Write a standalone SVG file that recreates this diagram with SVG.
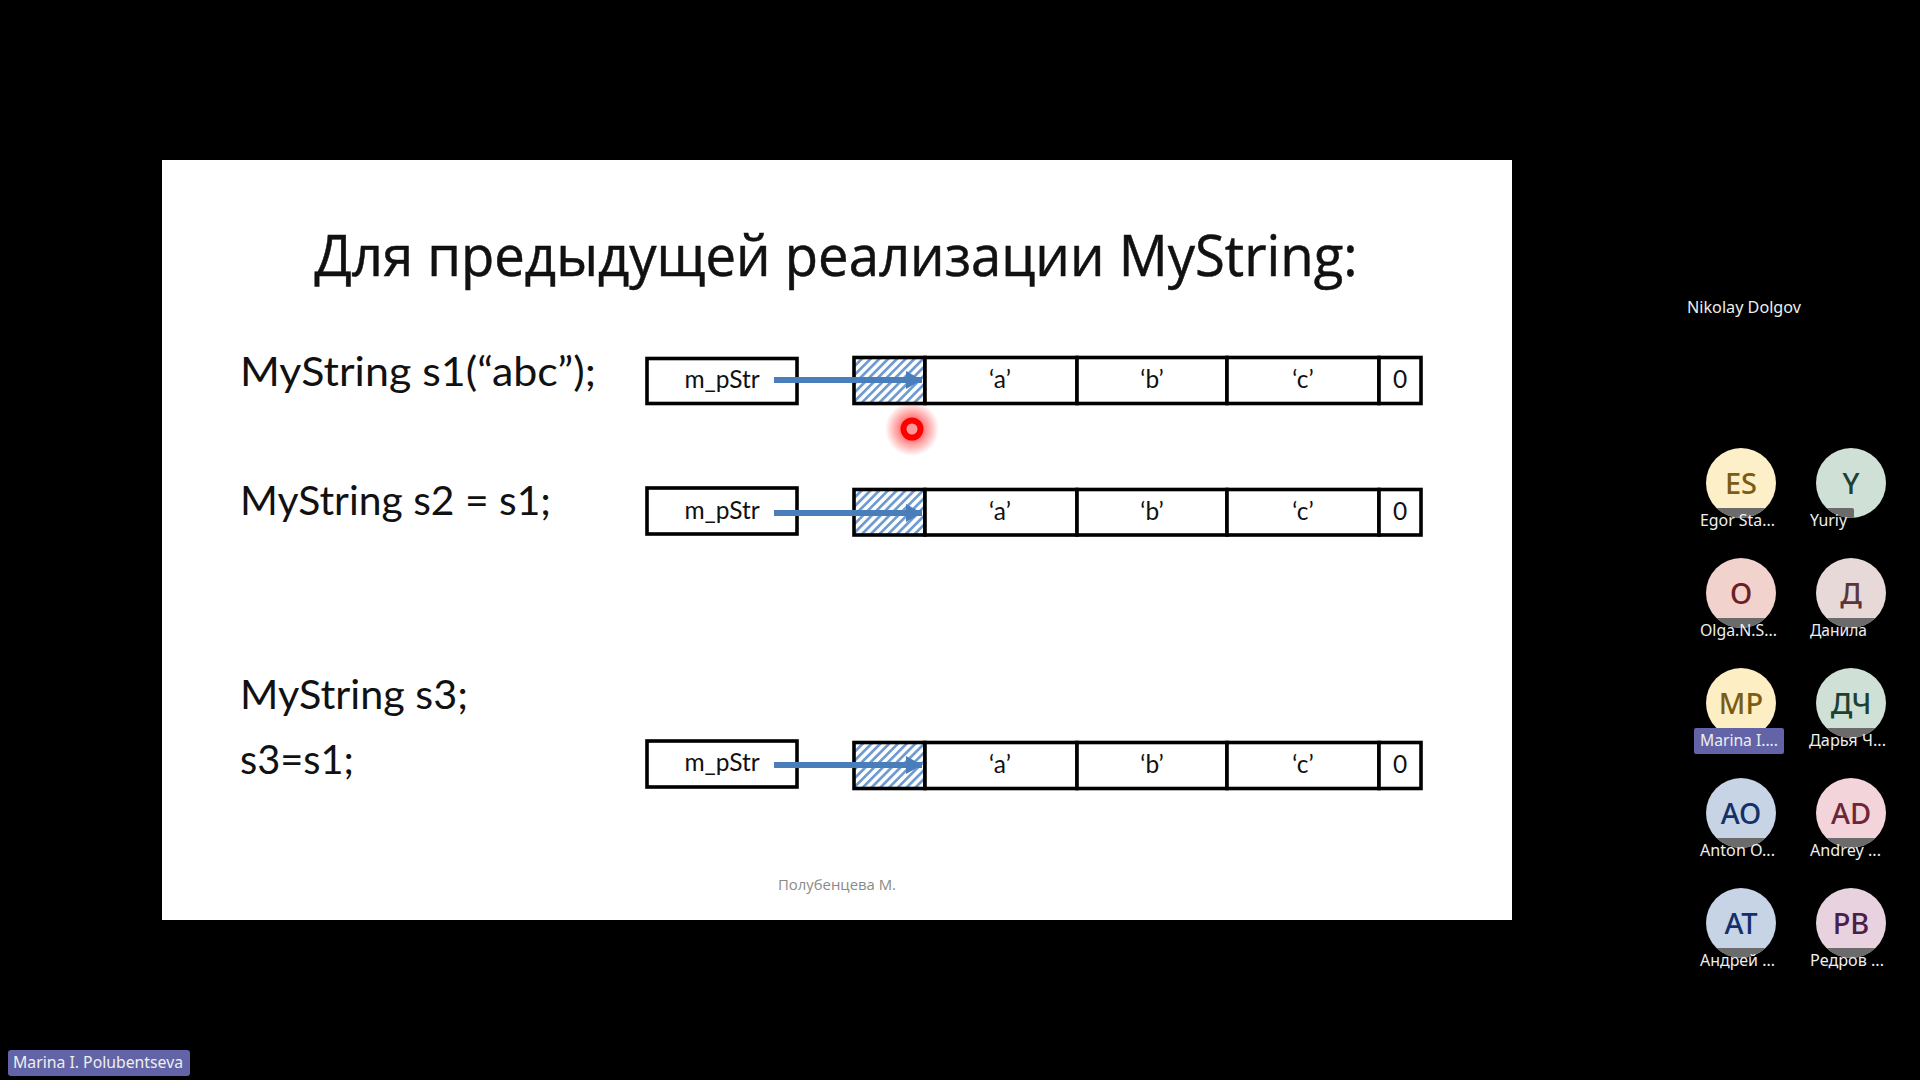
<svg xmlns="http://www.w3.org/2000/svg" width="1920" height="1080" viewBox="0 0 1920 1080">
<defs>
<pattern id="hatch" width="6.2" height="6" patternUnits="userSpaceOnUse" patternTransform="rotate(45)"><rect width="6.2" height="6" fill="#fff"/><rect width="2.7" height="6" fill="#6f9bd0"/></pattern>
<radialGradient id="glow"><stop offset="0.3" stop-color="#ff2020" stop-opacity="0.7"/><stop offset="1" stop-color="#ff2020" stop-opacity="0"/></radialGradient>
<marker id="head" markerUnits="userSpaceOnUse" markerWidth="18" markerHeight="20" refX="16" refY="10" orient="auto"><path d="M0 1 L16 10 L0 19 Z" fill="#4a7ebb"/></marker>
<clipPath id="c1"><circle cx="1741" cy="483" r="35"/></clipPath><clipPath id="c2"><circle cx="1851" cy="483" r="35"/></clipPath>
<clipPath id="c3"><circle cx="1741" cy="593" r="35"/></clipPath><clipPath id="c4"><circle cx="1851" cy="593" r="35"/></clipPath>
<clipPath id="c6"><circle cx="1851" cy="703" r="35"/></clipPath>
<clipPath id="c7"><circle cx="1741" cy="813" r="35"/></clipPath><clipPath id="c8"><circle cx="1851" cy="813" r="35"/></clipPath>
<clipPath id="c9"><circle cx="1741" cy="923" r="35"/></clipPath><clipPath id="c10"><circle cx="1851" cy="923" r="35"/></clipPath>
</defs>
<style>
.box{fill:#fff;stroke:#000;stroke-width:3.6}
.hat{fill:url(#hatch);stroke:#000;stroke-width:3.6}
.cell{font-family:"Lato","Noto Sans",sans-serif;font-size:24.5px;fill:#111;text-anchor:middle}
.code{font-family:"Lato","Noto Sans",sans-serif;font-size:40px;fill:#111}
.arrow{stroke:#4a7ebb;stroke-width:6;fill:none}
.ini{font-family:"Noto Sans",sans-serif;font-size:29px;font-weight:500;text-anchor:middle}
.name{font-family:"Noto Sans",sans-serif;font-size:15.5px;fill:#eee}
.bar{fill:#6b6b6b}
.badge{fill:#6264a7}
</style>
<rect width="1920" height="1080" fill="#000"/>
<rect id="slide" x="162" y="160" width="1350" height="760" fill="#fff"/>
<text id="title" x="836" y="276" text-anchor="middle" font-family="Open Sans, Noto Sans, sans-serif" font-size="56" fill="#111" stroke="#111" stroke-width="0.5" textLength="1043" lengthAdjust="spacingAndGlyphs">Для предыдущей реализации MyString:</text>
<text class="code" x="240" y="386" textLength="356" lengthAdjust="spacingAndGlyphs">MyString s1(“abc”);</text>
<text class="code" x="240" y="515" textLength="311" lengthAdjust="spacingAndGlyphs">MyString s2 = s1;</text>
<text class="code" x="240" y="709" textLength="228" lengthAdjust="spacingAndGlyphs">MyString s3;</text>
<text class="code" x="240" y="774" textLength="114" lengthAdjust="spacingAndGlyphs">s3=s1;</text>

<g id="row1">
<g id="ptr1"><rect class="box" x="647" y="358.5" width="150" height="45"/><text class="cell" x="722" y="388">m_pStr</text></g>
<g id="mem1"><rect class="hat" x="854" y="357.5" width="71" height="46"/><rect class="box" x="925" y="357.5" width="152" height="46"/><rect class="box" x="1077" y="357.5" width="150" height="46"/><rect class="box" x="1227" y="357.5" width="152" height="46"/><rect class="box" x="1379" y="357.5" width="42" height="46"/>
<text class="cell" x="1000" y="388">‘a’</text><text class="cell" x="1152" y="388">‘b’</text><text class="cell" x="1303" y="388">‘c’</text><text class="cell" x="1400" y="388">0</text></g>
</g>
<g id="row2">
<g id="ptr2"><rect class="box" x="647" y="488" width="150" height="46"/><text class="cell" x="722" y="519">m_pStr</text></g>
<g id="mem2"><rect class="hat" x="854" y="489.5" width="71" height="45.5"/><rect class="box" x="925" y="489.5" width="152" height="45.5"/><rect class="box" x="1077" y="489.5" width="150" height="45.5"/><rect class="box" x="1227" y="489.5" width="152" height="45.5"/><rect class="box" x="1379" y="489.5" width="42" height="45.5"/>
<text class="cell" x="1000" y="520">‘a’</text><text class="cell" x="1152" y="520">‘b’</text><text class="cell" x="1303" y="520">‘c’</text><text class="cell" x="1400" y="520">0</text></g>
</g>
<g id="row3">
<g id="ptr3"><rect class="box" x="647" y="741" width="150" height="46"/><text class="cell" x="722" y="771">m_pStr</text></g>
<g id="mem3"><rect class="hat" x="854" y="742.5" width="71" height="46"/><rect class="box" x="925" y="742.5" width="152" height="46"/><rect class="box" x="1077" y="742.5" width="150" height="46"/><rect class="box" x="1227" y="742.5" width="152" height="46"/><rect class="box" x="1379" y="742.5" width="42" height="46"/>
<text class="cell" x="1000" y="773">‘a’</text><text class="cell" x="1152" y="773">‘b’</text><text class="cell" x="1303" y="773">‘c’</text><text class="cell" x="1400" y="773">0</text></g>
</g>
<g id="connectors">
<line class="arrow" marker-end="url(#head)" x1="774" y1="380" x2="922" y2="380"/>
<line class="arrow" marker-end="url(#head)" x1="774" y1="513" x2="922" y2="513"/>
<line class="arrow" marker-end="url(#head)" x1="774" y1="765" x2="922" y2="765"/>
</g>
<text id="footer" x="837" y="890" text-anchor="middle" font-family="Open Sans, Noto Sans, sans-serif" font-size="15" fill="#8a8a8a" textLength="118" lengthAdjust="spacingAndGlyphs">Полубенцева М.</text>
<g id="pointer"><circle cx="912" cy="429" r="27" fill="url(#glow)"/><circle cx="912" cy="429" r="8.5" fill="#ff9a9a" stroke="#f00" stroke-width="6"/></g>

<text id="nikolay" class="name" x="1687" y="313" textLength="114" lengthAdjust="spacingAndGlyphs">Nikolay Dolgov</text>
<g id="p1"><circle cx="1741" cy="483" r="35" fill="#fdf0c8"/><rect class="bar" x="1700" y="508" width="82" height="12" clip-path="url(#c1)"/><text class="ini" x="1741" y="494" fill="#7a5c14">ES</text><text class="name" x="1700" y="526" textLength="75" lengthAdjust="spacingAndGlyphs">Egor Sta...</text></g>
<g id="p2"><circle cx="1851" cy="483" r="35" fill="#cfe0d6"/><rect class="bar" x="1810" y="508" width="44" height="12" rx="2" clip-path="url(#c2)"/><text class="ini" x="1851" y="494" fill="#1e4034">Y</text><text class="name" x="1810" y="526" textLength="37" lengthAdjust="spacingAndGlyphs">Yuriy</text></g>
<g id="p3"><circle cx="1741" cy="593" r="35" fill="#f2d2cc"/><rect class="bar" x="1700" y="618" width="82" height="12" clip-path="url(#c3)"/><text class="ini" x="1741" y="604" fill="#6b1f24">О</text><text class="name" x="1700" y="636" textLength="77" lengthAdjust="spacingAndGlyphs">Olga.N.S...</text></g>
<g id="p4"><circle cx="1851" cy="593" r="35" fill="#e8d9d9"/><rect class="bar" x="1810" y="618" width="82" height="12" clip-path="url(#c4)"/><text class="ini" x="1851" y="604" fill="#5a3636">Д</text><text class="name" x="1810" y="636" textLength="57" lengthAdjust="spacingAndGlyphs">Данила</text></g>
<g id="p5"><circle cx="1741" cy="703" r="35" fill="#fdeec4"/><text class="ini" x="1741" y="714" fill="#7a5c14">МР</text><rect class="badge" x="1694" y="728" width="90" height="26" rx="2"/><text class="name" x="1700" y="746" textLength="78" lengthAdjust="spacingAndGlyphs">Marina I....</text></g>
<g id="p6"><circle cx="1851" cy="703" r="35" fill="#cfe0d6"/><rect class="bar" x="1810" y="728" width="82" height="12" clip-path="url(#c6)"/><text class="ini" x="1851" y="714" fill="#1e4034">ДЧ</text><text class="name" x="1809" y="746" textLength="77" lengthAdjust="spacingAndGlyphs">Дарья Ч...</text></g>
<g id="p7"><circle cx="1741" cy="813" r="35" fill="#c6d4e6"/><rect class="bar" x="1700" y="838" width="82" height="12" clip-path="url(#c7)"/><text class="ini" x="1741" y="824" fill="#14306a">АО</text><text class="name" x="1700" y="856" textLength="75" lengthAdjust="spacingAndGlyphs">Anton O...</text></g>
<g id="p8"><circle cx="1851" cy="813" r="35" fill="#f2d4da"/><rect class="bar" x="1810" y="838" width="82" height="12" clip-path="url(#c8)"/><text class="ini" x="1851" y="824" fill="#6d2638">AD</text><text class="name" x="1810" y="856" textLength="71" lengthAdjust="spacingAndGlyphs">Andrey ...</text></g>
<g id="p9"><circle cx="1741" cy="923" r="35" fill="#c6d4e6"/><rect class="bar" x="1700" y="948" width="82" height="12" clip-path="url(#c9)"/><text class="ini" x="1741" y="934" fill="#14306a">АТ</text><text class="name" x="1700" y="966" textLength="75" lengthAdjust="spacingAndGlyphs">Андрей ...</text></g>
<g id="p10"><circle cx="1851" cy="923" r="35" fill="#e8d2e0"/><rect class="bar" x="1810" y="948" width="82" height="12" clip-path="url(#c10)"/><text class="ini" x="1851" y="934" fill="#4a2048">РВ</text><text class="name" x="1810" y="966" textLength="74" lengthAdjust="spacingAndGlyphs">Редров ...</text></g>
<g id="speaker"><rect class="badge" x="8" y="1050" width="182" height="26" rx="3"/><text class="name" x="13" y="1068" textLength="170" lengthAdjust="spacingAndGlyphs">Marina I. Polubentseva</text></g>
</svg>
